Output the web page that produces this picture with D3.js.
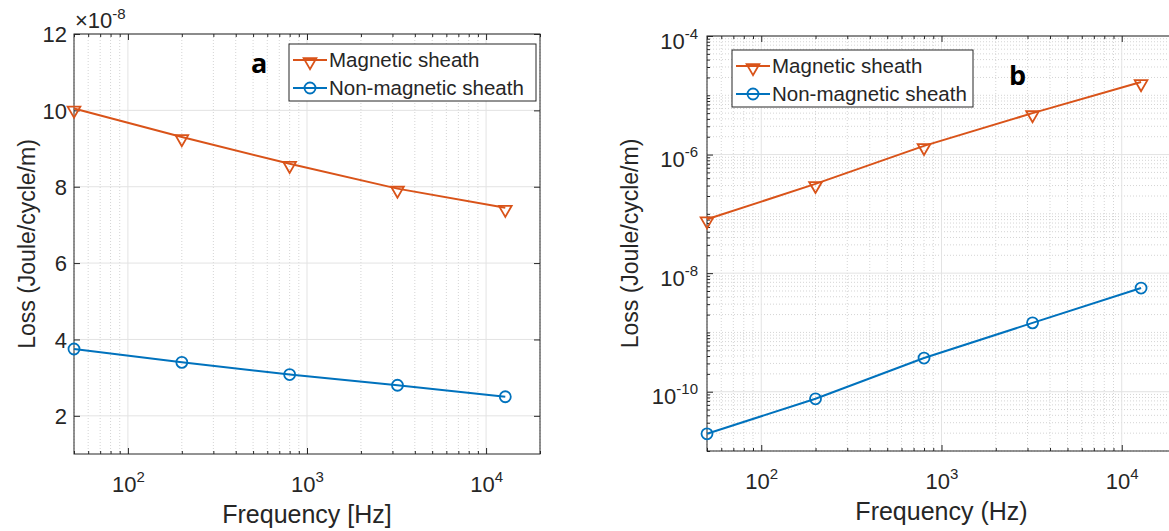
<!DOCTYPE html>
<html>
<head>
<meta charset="utf-8">
<script src="https://cdn.jsdelivr.net/npm/d3@7"></script>
<style>
  body { margin: 0; background: #fff; }
  svg { font-family: "Liberation Sans", Arial, Helvetica, sans-serif; }
</style>
</head>
<body>
<svg id="chart" width="1169" height="531"></svg>
<script>
// Data
const freqs = [50, 200, 800, 3200, 12800];
const xTicks = [1e2, 1e3, 1e4];
const seriesNames = ['Magnetic sheath', 'Non-magnetic sheath'];
const seriesColors = ['#D95319', '#0072BD'];
const seriesMarkers = ['tri', 'circle'];

// panel a: linear y, values in units of 1e-8 J/cycle/m
const lossMagA = [10.05, 9.3, 8.6, 7.95, 7.45];
const lossNonMagA = [3.75, 3.4, 3.08, 2.8, 2.5];
const yTicksA = [2, 4, 6, 8, 10, 12];

// panel b: log y
const lossMagB = [8.1e-8, 3.2e-7, 1.4e-6, 5.0e-6, 1.67e-5];
const lossNonMagB = [1.95e-11, 7.6e-11, 3.7e-10, 1.45e-9, 5.6e-9];
const yTicksB = [1e-10, 1e-8, 1e-6, 1e-4];

const svg = d3.select('#chart');
const ink = '#262626';

// write "10" with a superscript exponent into a text element
function powLabel(sel, exp) {
  sel.text('10');
  sel.append('tspan').attr('dy', -10).attr('font-size', 15).text(exp);
}

function isLabelled(v, list) {
  return list.some(t => Math.abs(t - v) / t < 1e-9);
}

function drawMarker(sel, type, color) {
  if (type === 'tri') {
    sel.append('path')
      .attr('d', d3.symbol(d3.symbolTriangle, 70)())
      .attr('transform', 'translate(0,1.8) rotate(180)')
      .attr('fill', 'none').attr('stroke', color).attr('stroke-width', 1.8);
  } else {
    sel.append('circle').attr('r', 5.5)
      .attr('fill', 'none').attr('stroke', color).attr('stroke-width', 1.8);
  }
}

function drawPanel(p) {
  const x = d3.scaleLog().domain([50, 20000]).range([0, p.width]);
  const y = p.yScale.range([p.height, 0]);
  const g = svg.append('g').attr('transform', `translate(${p.left},${p.top})`);

  // minor grid
  const xMinor = x.ticks().filter(v => !isLabelled(v, xTicks));
  const grid = g.append('g');
  grid.selectAll('.xminor').data(xMinor).join('line')
    .attr('x1', d => x(d)).attr('x2', d => x(d))
    .attr('y1', 0).attr('y2', p.height)
    .attr('stroke', '#d4d4d4').attr('stroke-dasharray', '1,2');
  let yMinor = [];
  if (p.log) {
    yMinor = y.ticks().filter(v => !isLabelled(v, p.yTicks));
    grid.selectAll('.yminor').data(yMinor).join('line')
      .attr('y1', d => y(d)).attr('y2', d => y(d))
      .attr('x1', 0).attr('x2', p.width)
      .attr('stroke', '#d4d4d4').attr('stroke-dasharray', '1,2');
  }
  // major grid
  grid.selectAll('.xmajor').data(xTicks).join('line')
    .attr('x1', d => x(d)).attr('x2', d => x(d))
    .attr('y1', 0).attr('y2', p.height)
    .attr('stroke', '#e3e3e3');
  grid.selectAll('.ymajor').data(p.yTicks).join('line')
    .attr('y1', d => y(d)).attr('y2', d => y(d))
    .attr('x1', 0).attr('x2', p.width)
    .attr('stroke', '#e3e3e3');

  // axes with inward ticks on all four sides
  const styleAxis = ax => {
    ax.select('.domain').remove();
    ax.selectAll('.tick line').attr('stroke', ink);
    ax.attr('font-family', null).attr('font-size', 22).attr('fill', ink);
    ax.selectAll('.tick text').attr('fill', ink);
  };

  const gx = g.append('g').attr('transform', `translate(0,${p.height})`)
    .call(d3.axisBottom(x).tickValues(xTicks).tickSizeInner(-6).tickSizeOuter(0));
  styleAxis(gx);
  gx.selectAll('.tick text').attr('y', 38).attr('dy', null)
    .each(function (d) { powLabel(d3.select(this), Math.round(Math.log10(d))); });
  g.append('g').call(d3.axisTop(x).tickValues(xTicks).tickSizeInner(-6).tickSizeOuter(0).tickFormat(''))
    .call(styleAxis);
  g.append('g').attr('transform', `translate(0,${p.height})`)
    .call(d3.axisBottom(x).tickValues(xMinor).tickSizeInner(-3).tickSizeOuter(0).tickFormat(''))
    .call(styleAxis);
  g.append('g')
    .call(d3.axisTop(x).tickValues(xMinor).tickSizeInner(-3).tickSizeOuter(0).tickFormat(''))
    .call(styleAxis);

  const gy = g.append('g')
    .call(d3.axisLeft(y).tickValues(p.yTicks).tickSizeInner(-6).tickSizeOuter(0));
  styleAxis(gy);
  if (p.log) {
    gy.selectAll('.tick text').attr('x', -9).attr('dy', '0.55em')
      .each(function (d) { powLabel(d3.select(this), Math.round(Math.log10(d))); });
  } else {
    gy.selectAll('.tick text').attr('x', -7).attr('dy', '0.35em');
  }
  g.append('g').attr('transform', `translate(${p.width},0)`)
    .call(d3.axisRight(y).tickValues(p.yTicks).tickSizeInner(-6).tickSizeOuter(0).tickFormat(''))
    .call(styleAxis);
  if (p.log) {
    g.append('g')
      .call(d3.axisLeft(y).tickValues(yMinor).tickSizeInner(-3).tickSizeOuter(0).tickFormat(''))
      .call(styleAxis);
    g.append('g').attr('transform', `translate(${p.width},0)`)
      .call(d3.axisRight(y).tickValues(yMinor).tickSizeInner(-3).tickSizeOuter(0).tickFormat(''))
      .call(styleAxis);
  }

  // box
  g.append('rect').attr('width', p.width).attr('height', p.height)
    .attr('fill', 'none').attr('stroke', ink).attr('stroke-width', 1);

  // series
  const line = d3.line().x(d => x(d[0])).y(d => y(d[1]));
  p.series.forEach((vals, i) => {
    const pts = freqs.map((f, j) => [f, vals[j]]);
    g.append('path').datum(pts).attr('d', line)
      .attr('fill', 'none').attr('stroke', seriesColors[i]).attr('stroke-width', 2);
    g.append('g').selectAll('g').data(pts).join('g')
      .attr('transform', d => `translate(${x(d[0])},${y(d[1])})`)
      .each(function () { drawMarker(d3.select(this), seriesMarkers[i], seriesColors[i]); });
  });

  // axis labels
  g.append('text').attr('x', p.width / 2).attr('y', p.height + 69)
    .attr('text-anchor', 'middle').attr('font-size', 25).attr('fill', ink)
    .text(p.xLabel);
  g.append('text')
    .attr('transform', `translate(${p.yLabelX},${p.height / 2}) rotate(-90)`)
    .attr('text-anchor', 'middle').attr('font-size', 23).attr('fill', ink)
    .text('Loss (Joule/cycle/m)');

  // panel letter
  g.append('text').attr('x', p.letterX).attr('y', p.letterY)
    .attr('font-family', '"Open Sans", "DejaVu Sans", sans-serif')
    .attr('font-weight', 'bold').attr('font-size', 27).attr('fill', '#000')
    .text(p.letter);

  // legend
  const lg = g.append('g').attr('transform', `translate(${p.legX},${p.legY})`);
  lg.append('rect').attr('width', p.legW).attr('height', 57)
    .attr('fill', '#fff').attr('stroke', ink).attr('stroke-width', 1);
  seriesNames.forEach((name, i) => {
    const ry = 16 + i * 28;
    lg.append('line').attr('x1', 4).attr('x2', 38).attr('y1', ry).attr('y2', ry)
      .attr('stroke', seriesColors[i]).attr('stroke-width', 2);
    drawMarker(lg.append('g').attr('transform', `translate(21,${ry})`), seriesMarkers[i], seriesColors[i]);
    lg.append('text').attr('x', 40).attr('y', ry).attr('dy', '0.35em')
      .attr('font-size', 20.5).attr('fill', ink).text(name);
  });

  return g;
}

// panel a
const ga = drawPanel({
  left: 74, top: 34, width: 466, height: 420,
  yScale: d3.scaleLinear().domain([1, 12]), yTicks: yTicksA, log: false,
  series: [lossMagA, lossNonMagA],
  xLabel: 'Frequency [Hz]', yLabelX: -39,
  letter: 'a', letterX: 177, letterY: 39,
  legX: 215, legY: 10, legW: 247
});
// exponent note above the linear axis
const ex = ga.append('text').attr('x', 1).attr('y', -6)
  .attr('font-size', 22).attr('fill', ink).text('\u00d710');
ex.append('tspan').attr('dy', -9).attr('font-size', 15).text('-8');

// panel b
drawPanel({
  left: 707, top: 36, width: 469, height: 415,
  yScale: d3.scaleLog().domain([1e-11, 1e-4]), yTicks: yTicksB, log: true,
  series: [lossMagB, lossNonMagB],
  xLabel: 'Frequency (Hz)', yLabelX: -69,
  letter: 'b', letterX: 302, letterY: 49,
  legX: 25, legY: 14, legW: 241
});
</script>
</body>
</html>
